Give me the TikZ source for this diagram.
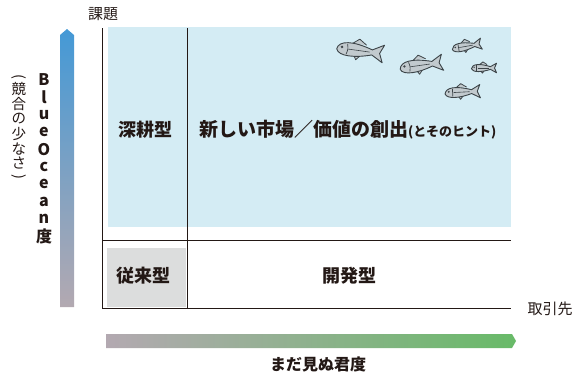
\documentclass[tikz,border=0pt]{standalone}
\usepackage{fontspec}
\setmainfont{Noto Sans CJK JP}
\usetikzlibrary{arrows.meta}
\definecolor{sea}{HTML}{D4ECF4}
\definecolor{oldgray}{HTML}{DCDDDD}
\definecolor{oceanblue}{HTML}{4499D6}
\definecolor{mauve}{HTML}{B3A9B1}
\definecolor{fieldgreen}{HTML}{68BA68}
\definecolor{ink}{HTML}{231815}
\definecolor{fishfill}{HTML}{C2CACE}
\definecolor{fishline}{HTML}{3C4448}
\newcommand{\fsz}[1]{\fontsize{#1}{#1}\selectfont}

\tikzset{
  fish/.pic={
    % fins first, body on top
    \path[fill=fishfill, draw=fishline, line width=0.8pt, line join=round]
      (-8,-5) -- (-3,-9) -- (3,-5) (-6,4) -- (-4,7.5) -- (-1,4);
    \path[fill=fishfill, draw=fishline, line width=0.9pt, line join=round]
      (-20,1) .. controls (-19,-6) and (-8,-7) .. (8,-2)
      -- (17,-7) -- (14,0) -- (17,7) -- (8,2)
      .. controls (-4,6) and (-18,7) .. cycle;
    \draw[fishline, line width=0.7pt] (-12,-4) .. controls (-11,0) .. (-12,4);
    \draw[fishline, line width=0.6pt] (-11,0) -- (6,0);
    \fill[fishline] (-16,-1) circle (1.1pt);
  }
}

\begin{document}
\begin{tikzpicture}[x=1pt, y=-1pt,
    axis/.style={line width=0.9pt, ink},
    quad/.style={font=\fsz{18}\bfseries, text=ink, inner sep=0pt},
    lbl/.style={font=\fsz{15}, text=ink, inner sep=0pt},
    vbold/.style={font=\fsz{16}\bfseries, text=ink, inner sep=0pt},
    vlbl/.style={font=\fsz{14.5}, text=ink, inner sep=0pt},
  ]
  \useasboundingbox (0,0) rectangle (576,376);

  % quadrant fills
  \fill[sea] (108,27) rectangle (511,227);
  \fill[oldgray] (107,248) rectangle (186,307);

  % axes and dividers
  \coordinate (ytop) at (102,28);
  \coordinate (o) at (102,308);
  \coordinate (xend) at (511,308);
  \coordinate (vtop) at (187,28);
  \coordinate (vbot) at (187,308);
  \coordinate (hl) at (102,240);
  \coordinate (hr) at (511,240);
  \draw[axis] (ytop) -- (o) -- (xend);
  \draw[line width=0.8pt, ink] (vtop) -- (vbot);
  \draw[line width=0.8pt, ink] (hl) -- (hr);

  \node[lbl] (kadai) at (103,14) {課題};
  \node[lbl] (torihiki) at (550,309) {取引先};

  % quadrant labels
  \node[quad] (deep) at (145,130) {深耕型};
  \node[quad, anchor=west, font=\fsz{19}\bfseries] (newmkt) at (199,130)
    {新しい市場／価値の創出{\fsz{13}(とそのヒント)}};
  \node[quad] (conv) at (143,276) {従来型};
  \node[quad] (dev) at (349,276) {開発型};

  % school of fish
  \pic[rotate=-8, scale=1.27] (f1) at (362,51) {fish};
  \pic[rotate=8, scale=1.16] (f2) at (423,65) {fish};
  \pic[rotate=10, scale=0.8] (f3) at (468,46) {fish};
  \pic[scale=0.68] (f4) at (485,68) {fish};
  \pic[rotate=3, scale=0.95] (f5) at (464,92) {fish};

  % vertical scale
  \shade[top color=oceanblue, bottom color=mauve]
    (60,307) -- (60,35) -- (67,29) -- (74,35) -- (74,307) -- cycle;
  \foreach \ch [count=\i from 0] in {B,l,u,e,O,c,e,a,n,度}
    \node[vbold] (bo\i) at (44,80+17.4*\i) {\ch};
  \node[vlbl, rotate=-90] (popen) at (19,77) {(};
  \foreach \ch [count=\i from 0] in {競,合,の,少,な,さ}
    \node[vlbl] (kyo\i) at (19,89+14.9*\i) {\ch};
  \node[vlbl, rotate=-90] (pclose) at (19,177) {)};

  % horizontal scale
  \shade[left color=mauve, right color=fieldgreen]
    (106,334) -- (512,334) -- (516,341) -- (512,348) -- (106,348) -- cycle;
  \node[vbold] (mada) at (318,364) {まだ見ぬ君度};
\end{tikzpicture}
\end{document}
